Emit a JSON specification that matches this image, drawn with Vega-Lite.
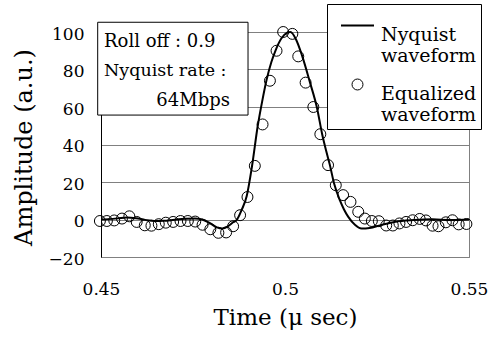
{
  "$schema": "https://vega.github.io/schema/vega-lite/v6.json",
  "width": 368,
  "height": 225,
  "autosize": {"type": "none"},
  "padding": {"left": 101, "top": 32, "right": 21, "bottom": 80},
  "background": "white",
  "config": {
    "font": "DejaVu Serif",
    "view": {"stroke": "#808080", "strokeWidth": 1},
    "axisX": {
      "grid": false, "ticks": false,
      "domainColor": "#808080", "labelFlush": false, "labelOverlap": false, "labelFontSize": 17, "labelColor": "black",
      "labelFont": "DejaVu Serif", "titleFont": "DejaVu Serif",
      "labelPadding": 24, "titleFontSize": 23, "titleFontWeight": "normal",
      "titleColor": "black", "titleBaseline": "alphabetic", "titleY": 67
    },
    "axisY": {
      "grid": true, "gridColor": "#808080", "gridOpacity": 1,
      "ticks": false, "domainColor": "black", "labelOverlap": false, "labelFontSize": 17, "labelColor": "black",
      "labelFont": "DejaVu Serif", "titleFont": "DejaVu Serif",
      "labelPadding": 17, "labelOffset": 2, "titleFontSize": 24,
      "titleFontWeight": "normal", "titleColor": "black", "titleAngle": -90, "titleBaseline": "alphabetic",
      "titleX": -70, "titleY": 115
    },
    "legend": {
      "title": null, "orient": "none", "legendX": 226, "legendY": -28,
      "strokeColor": "black", "fillColor": "white", "padding": 4, "symbolOffset": 9,
      "labelFont": "DejaVu Serif", "labelFontSize": 19, "labelColor": "black", "labelLimit": 200,
      "labelOffset": 6, "rowPadding": 9, "labelBaseline": "top",
      "symbolStrokeColor": "black", "symbolFillColor": "white"
    },
    "text": {"font": "DejaVu Serif"}
  },
  "datasets": {
    "nyquist": [
      {"t": 0.4500, "amp": 0.0}, {"t": 0.4520, "amp": 0.2}, {"t": 0.4545, "amp": 0.6}, {"t": 0.4570, "amp": 1.1},
      {"t": 0.4595, "amp": 0.7}, {"t": 0.4620, "amp": -0.2}, {"t": 0.4645, "amp": -0.8}, {"t": 0.4670, "amp": -0.7},
      {"t": 0.4700, "amp": -0.1}, {"t": 0.4730, "amp": 0.4}, {"t": 0.4755, "amp": 0.6}, {"t": 0.4775, "amp": 0.0},
      {"t": 0.4795, "amp": -1.8}, {"t": 0.4815, "amp": -4.2}, {"t": 0.4830, "amp": -4.8}, {"t": 0.4845, "amp": -3.6},
      {"t": 0.4858, "amp": -1.6}, {"t": 0.4869, "amp": -0.2}, {"t": 0.4882, "amp": 5.0}, {"t": 0.4896, "amp": 12.5},
      {"t": 0.4910, "amp": 28.0}, {"t": 0.4926, "amp": 50.0}, {"t": 0.4938, "amp": 63.0}, {"t": 0.4950, "amp": 74.5},
      {"t": 0.4963, "amp": 84.0}, {"t": 0.4975, "amp": 90.5}, {"t": 0.4990, "amp": 96.5}, {"t": 0.5005, "amp": 99.5},
      {"t": 0.5015, "amp": 100.0}, {"t": 0.5030, "amp": 96.0}, {"t": 0.5047, "amp": 87.0}, {"t": 0.5068, "amp": 73.0},
      {"t": 0.5087, "amp": 59.5}, {"t": 0.5101, "amp": 45.5}, {"t": 0.5112, "amp": 36.5}, {"t": 0.5122, "amp": 29.0},
      {"t": 0.5133, "amp": 19.5}, {"t": 0.5149, "amp": 10.3}, {"t": 0.5160, "amp": 5.5}, {"t": 0.5172, "amp": 1.4},
      {"t": 0.5190, "amp": -2.8}, {"t": 0.5208, "amp": -4.8}, {"t": 0.5230, "amp": -4.5}, {"t": 0.5260, "amp": -3.0},
      {"t": 0.5300, "amp": -1.2}, {"t": 0.5350, "amp": -0.3}, {"t": 0.5400, "amp": 0.1}, {"t": 0.5450, "amp": -0.3},
      {"t": 0.5500, "amp": 0.0}
    ],
    "equalized": [
      {"t": 0.4497, "amp": -0.8, "series": "Equalized waveform"}, {"t": 0.4516, "amp": -0.8, "series": "Equalized waveform"},
      {"t": 0.4536, "amp": -0.5, "series": "Equalized waveform"}, {"t": 0.4557, "amp": 0.5, "series": "Equalized waveform"},
      {"t": 0.4577, "amp": 1.7, "series": "Equalized waveform"}, {"t": 0.4597, "amp": -1.3, "series": "Equalized waveform"},
      {"t": 0.4619, "amp": -3.1, "series": "Equalized waveform"}, {"t": 0.4637, "amp": -3.3, "series": "Equalized waveform"},
      {"t": 0.4657, "amp": -2.5, "series": "Equalized waveform"}, {"t": 0.4676, "amp": -1.7, "series": "Equalized waveform"},
      {"t": 0.4696, "amp": -1.3, "series": "Equalized waveform"}, {"t": 0.4716, "amp": -0.8, "series": "Equalized waveform"},
      {"t": 0.4736, "amp": -0.8, "series": "Equalized waveform"}, {"t": 0.4756, "amp": -1.1, "series": "Equalized waveform"},
      {"t": 0.4776, "amp": -2.8, "series": "Equalized waveform"}, {"t": 0.4797, "amp": -5.2, "series": "Equalized waveform"},
      {"t": 0.4819, "amp": -7.1, "series": "Equalized waveform"}, {"t": 0.4840, "amp": -6.9, "series": "Equalized waveform"},
      {"t": 0.4859, "amp": -3.6, "series": "Equalized waveform"}, {"t": 0.4878, "amp": 2.3, "series": "Equalized waveform"},
      {"t": 0.4898, "amp": 12.0, "series": "Equalized waveform"}, {"t": 0.4918, "amp": 28.6, "series": "Equalized waveform"},
      {"t": 0.4939, "amp": 50.7, "series": "Equalized waveform"}, {"t": 0.4959, "amp": 74.0, "series": "Equalized waveform"},
      {"t": 0.4977, "amp": 90.0, "series": "Equalized waveform"}, {"t": 0.4995, "amp": 100.0, "series": "Equalized waveform"},
      {"t": 0.5020, "amp": 99.0, "series": "Equalized waveform"}, {"t": 0.5036, "amp": 87.0, "series": "Equalized waveform"},
      {"t": 0.5056, "amp": 73.0, "series": "Equalized waveform"}, {"t": 0.5077, "amp": 60.0, "series": "Equalized waveform"},
      {"t": 0.5096, "amp": 45.5, "series": "Equalized waveform"}, {"t": 0.5117, "amp": 29.0, "series": "Equalized waveform"},
      {"t": 0.5138, "amp": 18.3, "series": "Equalized waveform"}, {"t": 0.5158, "amp": 13.0, "series": "Equalized waveform"},
      {"t": 0.5178, "amp": 9.4, "series": "Equalized waveform"}, {"t": 0.5199, "amp": 4.1, "series": "Equalized waveform"},
      {"t": 0.5217, "amp": 0.5, "series": "Equalized waveform"}, {"t": 0.5236, "amp": -0.8, "series": "Equalized waveform"},
      {"t": 0.5255, "amp": -0.9, "series": "Equalized waveform"}, {"t": 0.5275, "amp": -3.2, "series": "Equalized waveform"},
      {"t": 0.5293, "amp": -3.2, "series": "Equalized waveform"}, {"t": 0.5311, "amp": -2.1, "series": "Equalized waveform"},
      {"t": 0.5329, "amp": -1.3, "series": "Equalized waveform"}, {"t": 0.5347, "amp": -0.4, "series": "Equalized waveform"},
      {"t": 0.5366, "amp": 0.3, "series": "Equalized waveform"}, {"t": 0.5383, "amp": -0.5, "series": "Equalized waveform"},
      {"t": 0.5401, "amp": -3.3, "series": "Equalized waveform"}, {"t": 0.5417, "amp": -3.6, "series": "Equalized waveform"},
      {"t": 0.5437, "amp": -1.5, "series": "Equalized waveform"}, {"t": 0.5455, "amp": -0.4, "series": "Equalized waveform"},
      {"t": 0.5472, "amp": -2.6, "series": "Equalized waveform"}, {"t": 0.5493, "amp": -2.4, "series": "Equalized waveform"}
    ]
  },
  "layer": [
    {
      "data": {"name": "nyquist"},
      "mark": {"type": "line", "color": "black", "strokeWidth": 2, "interpolate": "monotone"},
      "encoding": {
        "x": {"field": "t", "type": "quantitative", "scale": {"domain": [0.45, 0.55], "nice": false, "zero": false}, "axis": {"title": "Time (μ sec)", "values": [0.45, 0.5, 0.55], "format": ".2~f"}},
        "y": {"field": "amp", "type": "quantitative", "scale": {"domain": [-20, 100], "nice": false, "zero": false}, "axis": {"title": "Amplitude (a.u.)", "values": [-20, 0, 20, 40, 60, 80, 100]}}
      }
    },
    {
      "data": {"name": "equalized"},
      "mark": {"type": "point", "shape": "circle", "filled": false, "stroke": "black", "opacity": 1},
      "encoding": {
        "x": {"field": "t", "type": "quantitative", "scale": {"domain": [0.45, 0.55], "nice": false, "zero": false}, "axis": {"title": "Time (μ sec)", "values": [0.45, 0.5, 0.55], "format": ".2~f"}},
        "y": {"field": "amp", "type": "quantitative", "scale": {"domain": [-20, 100], "nice": false, "zero": false}, "axis": {"title": "Amplitude (a.u.)", "values": [-20, 0, 20, 40, 60, 80, 100]}},
        "shape": {
          "field": "series", "type": "nominal",
          "scale": {"domain": ["Nyquist waveform", "Equalized waveform"], "range": ["stroke", "circle"]},
          "legend": {"labelExpr": "datum.label == 'Nyquist waveform' ? ['Nyquist', 'waveform'] : ['Equalized', 'waveform']"}
        },
        "size": {
          "field": "series", "type": "nominal",
          "scale": {"domain": ["Nyquist waveform", "Equalized waveform"], "range": [1089, 120]},
          "legend": {"labelExpr": "datum.label == 'Nyquist waveform' ? ['Nyquist', 'waveform'] : ['Equalized', 'waveform']"}
        },
        "strokeWidth": {
          "field": "series", "type": "nominal",
          "scale": {"domain": ["Nyquist waveform", "Equalized waveform"], "range": [2, 1]},
          "legend": {"labelExpr": "datum.label == 'Nyquist waveform' ? ['Nyquist', 'waveform'] : ['Equalized', 'waveform']"}
        }
      }
    },
    {
      "data": {"values": [{}]},
      "mark": {"type": "rect", "fill": "white", "stroke": "black", "strokeWidth": 1},
      "encoding": {
        "x": {"datum": 0.4491, "type": "quantitative", "axis": {"title": "Time (μ sec)", "values": [0.45, 0.5, 0.55], "format": ".2~f"}},
        "x2": {"datum": 0.48995},
        "y": {"datum": 105.2, "type": "quantitative", "axis": {"title": "Amplitude (a.u.)", "values": [-20, 0, 20, 40, 60, 80, 100]}},
        "y2": {"datum": 55.7}
      }
    },
    {
      "data": {"values": [{}]},
      "mark": {"type": "text", "align": "left", "baseline": "alphabetic", "fontSize": 18, "color": "black"},
      "encoding": {
        "x": {"datum": 0.45082, "type": "quantitative", "axis": {"title": "Time (μ sec)", "values": [0.45, 0.5, 0.55], "format": ".2~f"}},
        "y": {"datum": 92.2, "type": "quantitative", "axis": {"title": "Amplitude (a.u.)", "values": [-20, 0, 20, 40, 60, 80, 100]}},
        "text": {"value": "Roll off : 0.9"}
      }
    },
    {
      "data": {"values": [{}]},
      "mark": {"type": "text", "align": "left", "baseline": "alphabetic", "fontSize": 17.5, "color": "black"},
      "encoding": {
        "x": {"datum": 0.45082, "type": "quantitative", "axis": {"title": "Time (μ sec)", "values": [0.45, 0.5, 0.55], "format": ".2~f"}},
        "y": {"datum": 76.5, "type": "quantitative", "axis": {"title": "Amplitude (a.u.)", "values": [-20, 0, 20, 40, 60, 80, 100]}},
        "text": {"value": "Nyquist rate :"}
      }
    },
    {
      "data": {"values": [{}]},
      "mark": {"type": "text", "align": "right", "baseline": "alphabetic", "fontSize": 18, "color": "black"},
      "encoding": {
        "x": {"datum": 0.48505, "type": "quantitative", "axis": {"title": "Time (μ sec)", "values": [0.45, 0.5, 0.55], "format": ".2~f"}},
        "y": {"datum": 60.5, "type": "quantitative", "axis": {"title": "Amplitude (a.u.)", "values": [-20, 0, 20, 40, 60, 80, 100]}},
        "text": {"value": "64Mbps"}
      }
    }
  ]
}
